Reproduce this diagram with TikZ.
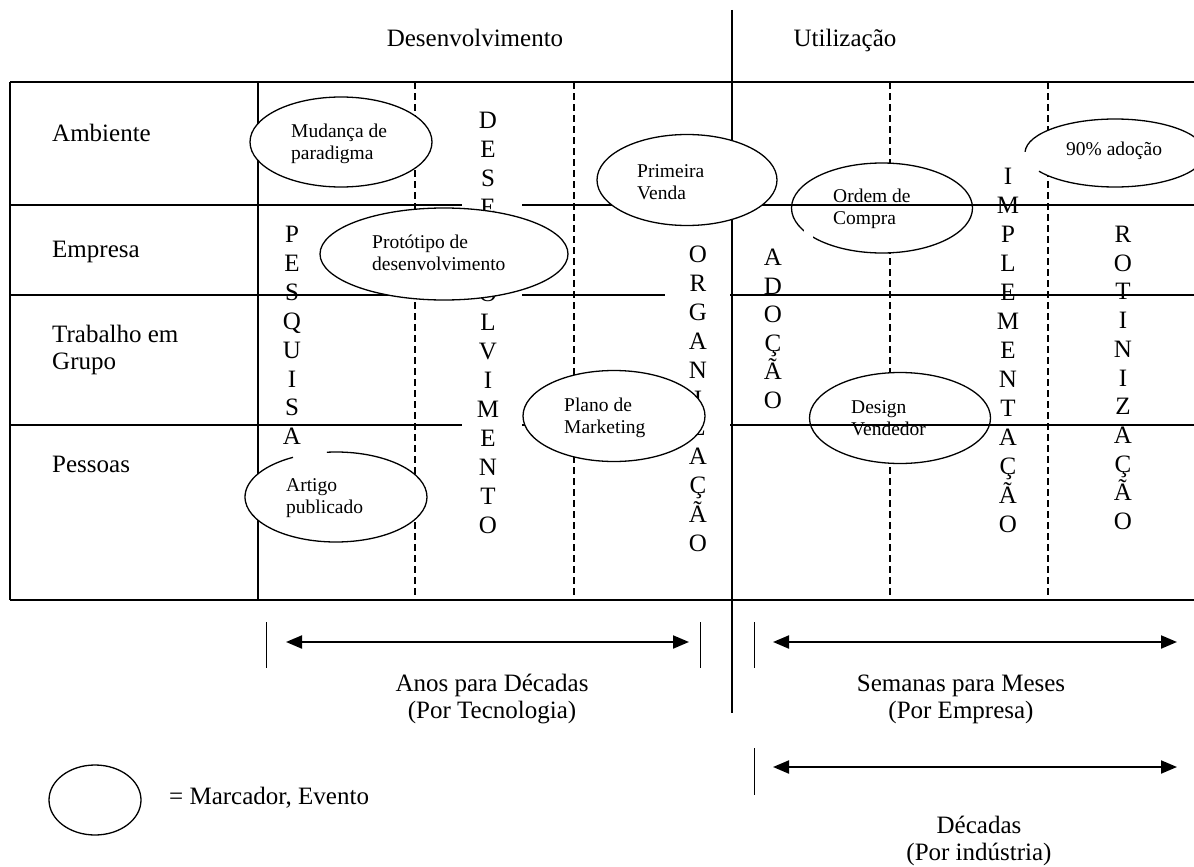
\documentclass[tikz,border=0pt]{standalone}
\usepackage{fontspec}
\setmainfont{Liberation Serif}
\usetikzlibrary{arrows.meta,shapes.geometric}
\newcommand\BigF{\fontsize{25pt}{27pt}\selectfont}
\newcommand\SmF{\fontsize{19.5pt}{22.5pt}\selectfont}
\begin{document}
\begin{tikzpicture}[x=1pt,y=-1pt,
  grid/.style={line width=1.4pt},
  dgrid/.style={line width=1.4pt, dash pattern=on 7pt off 4pt},
  vl/.style={font=\BigF, anchor=base, inner sep=0pt},
  lbl/.style={font=\BigF, anchor=base west, inner sep=0pt},
  lbl2/.style={font=\BigF, align=left, anchor=north west, inner sep=0pt},
  lblc/.style={font=\BigF, align=center, anchor=north, inner sep=0pt},
  evt/.style={ellipse, draw, fill=white, line width=1.3pt, inner sep=0pt},
  evtnd/.style={ellipse, fill=white, inner sep=0pt},
  eline/.style={line width=1.3pt},
  etxt/.style={font=\SmF, align=left, anchor=north west, inner sep=0pt},
  bar/.style={line width=0.9pt},
  span/.style={line width=2pt, {Triangle[length=16pt,width=13pt]}-{Triangle[length=16pt,width=13pt]}},
]
\useasboundingbox (0,0) rectangle (1194,867);

% vertical grid lines
\draw[grid] (10,82) -- (10,600);
\draw[grid] (258,82) -- (258,600);
\draw[grid] (732,10) -- (732,713);
\draw[dgrid] (415,82) -- (415,600);
\draw[dgrid] (574,82) -- (574,600);
\draw[dgrid] (890,82) -- (890,600);
\draw[dgrid] (1048,82) -- (1048,600);

% events under horizontal lines
\node[evt, minimum width=181pt, minimum height=90pt] (ord) at (882,208) {};
\node[evt, minimum width=181pt, minimum height=91pt] (desv) at (900,418) {};
\fill[white] (804,228) rectangle (813,238);

% horizontal grid lines
\draw[grid] (10,82) -- (1194,82);
\draw[grid] (10,600) -- (1194,600);
\draw[grid] (10,205) -- (462,205) (522,205) -- (1194,205);
\draw[grid] (10,295) -- (462,295) (522,295) -- (665,295) (730,295) -- (1194,295);
\draw[grid] (10,425) -- (462,425) (522,425) -- (665,425) (730,425) -- (1194,425);

% headers and row labels
\node[font=\BigF, anchor=base, inner sep=0pt] (hdes) at (475,47) {Desenvolvimento};
\node[font=\BigF, anchor=base, inner sep=0pt] (huti) at (845,47) {Utilização};
\node[lbl] (ramb) at (52,141) {Ambiente};
\node[lbl] (remp) at (52,257) {Empresa};
\node[lbl2] (rtra) at (52,{342-18.9}) {Trabalho em\strut\\Grupo\strut};
\node[lbl] (rpes) at (52,472) {Pessoas};

% vertical words
\foreach \c [count=\i from 0] in {P,E,S,Q,U,I,S,A}
  \node[vl] (pes\i) at (292,{242.5+28.9*\i}) {\c};
\foreach \c [count=\i from 0] in {D,E,S,E,N,V,O,L,V,I,M,E,N,T,O}
  \node[vl] (dsv\i) at (488,{128.5+28.9*\i}) {\c};
\foreach \c [count=\i from 0] in {O,R,G,A,N,I,Z,A,Ç,Ã,O}
  \node[vl] (org\i) at (698,{262.5+28.9*\i}) {\c};
\foreach \c [count=\i from 0] in {A,D,O,Ç,Ã,O}
  \node[vl] (ado\i) at (773,{265.5+28.5*\i}) {\c};
\foreach \c [count=\i from 0] in {I,M,P,L,E,M,E,N,T,A,Ç,Ã,O}
  \node[vl] (imp\i) at (1008,{184.5+29*\i}) {\c};
\foreach \c [count=\i from 0] in {R,O,T,I,N,I,Z,A,Ç,Ã,O}
  \node[vl] (rot\i) at (1123,{242.5+28.7*\i}) {\c};

% filled event ellipses
\node[evt, minimum width=182pt, minimum height=90pt] (mud) at (341,142) {};
\node[evt, minimum width=180pt, minimum height=91pt] (prim) at (687,180) {};
\node[evt, minimum width=248pt, minimum height=92pt] (prot) at (444,254) {};
\node[evt, minimum width=182pt, minimum height=91pt] (plan) at (614,416) {};
\node[evtnd, minimum width=182pt, minimum height=90pt] (art) at (336,497) {};
\draw[eline] ([shift={(264.3:91 and 45)}]art.center) arc[start angle=264.3, end angle=601.8, x radius=91, y radius=45];
\node[evtnd, minimum width=180pt, minimum height=68pt] (nov) at (1115,153) {};
\draw[eline] ([shift={(182:90 and 34)}]nov.center) arc[start angle=182, end angle=507.6, x radius=90, y radius=34];

% event texts
\node[etxt] (tmud) at (291,{137-15.75}) {Mudança de\strut\\paradigma\strut};
\node[etxt] (tprim) at (637,{177-15.75}) {Primeira\strut\\Venda\strut};
\node[etxt] (tprot) at (372,{248-15.75}) {Protótipo de\strut\\desenvolvimento\strut};
\node[etxt] (tplan) at (564,{411-15.75}) {Plano de\strut\\Marketing\strut};
\node[etxt] (tart) at (286,{491-15.75}) {Artigo\strut\\publicado\strut};
\node[etxt] (tord) at (833,{202-15.75}) {Ordem de\strut\\Compra\strut};
\node[etxt] (tnov) at (1066,{155-15.75}) {90\% adoção\strut};
\node[etxt] (tdes) at (851,{413-15.75}) {Design\strut\\Vendedor\strut};

% time spans
\coordinate (s1a) at (266,622); \coordinate (s1b) at (266,668);
\coordinate (s1c) at (700,622); \coordinate (s1d) at (700,668);
\coordinate (s1l) at (286,642); \coordinate (s1r) at (689,642);
\draw[bar] (s1a) -- (s1b);
\draw[bar] (s1c) -- (s1d);
\draw[span] (s1l) -- (s1r);
\node[lblc] (t1) at (492,{691-18.9}) {Anos para Décadas\strut\\(Por Tecnologia)\strut};

\coordinate (s2a) at (754,622); \coordinate (s2b) at (754,668);
\coordinate (s2l) at (773,642); \coordinate (s2r) at (1177,642);
\draw[bar] (s2a) -- (s2b);
\draw[span] (s2l) -- (s2r);
\node[lblc] (t2) at (961,{691-18.9}) {Semanas para Meses\strut\\(Por Empresa)\strut};

\coordinate (s3a) at (754,748); \coordinate (s3b) at (754,795);
\coordinate (s3l) at (773,767); \coordinate (s3r) at (1177,767);
\draw[bar] (s3a) -- (s3b);
\draw[span] (s3l) -- (s3r);
\node[lblc] (t3) at (979,{833-18.9}) {Décadas\strut\\(Por indústria)\strut};

% legend
\node[evt, fill=none, minimum width=92pt, minimum height=70pt] (leg) at (95,800) {};
\node[lbl] (tleg) at (169,804) {= Marcador, Evento};
\end{tikzpicture}
\end{document}
